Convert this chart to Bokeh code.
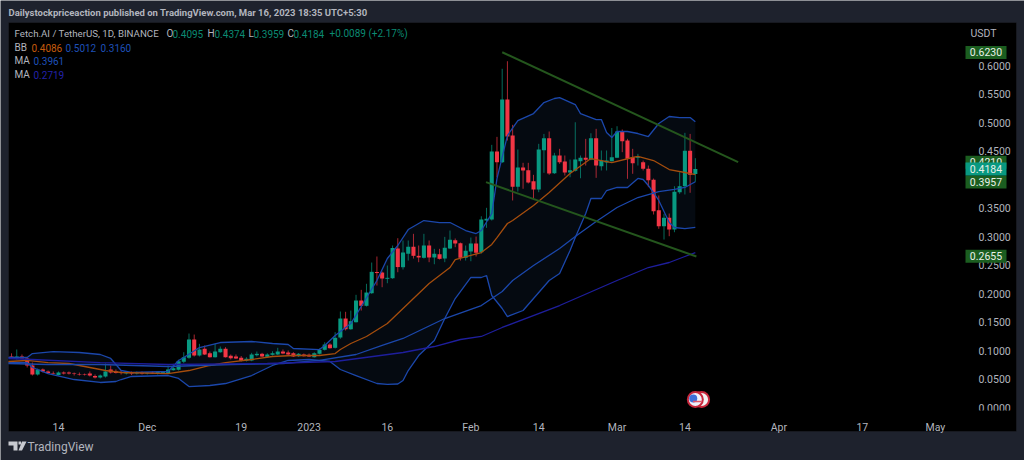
from bokeh.plotting import figure
from bokeh.embed import file_html
from bokeh.resources import INLINE
from bokeh.models import (Range1d, LinearAxis, FixedTicker, NumeralTickFormatter, Label, BoxAnnotation,
                          PolyAnnotation, ColumnDataSource)

# ---- data -------------------------------------------------------------
days = list(range(-9, 123))  # days from 14 Nov 2022
opens = [.0895,.0860,.0895,.0860,.0737,.0579,.0667,.0632,.0605,.0570,.0614,.0614,.0596,.0588,.0579,.0596,.0553,.0526,.0544,.0667,.0632,.0614,.0596,.0614,.0596,.0614,.0596,.0614,.0596,.0605,.0602,.0654,.0661,.0802,.0872,.1193,.0912,.1030,.0952,.0882,.0970,.1030,.0907,.0895,.0872,.0819,.0824,.0917,.0942,.0889,.0924,.0930,.0982,.0965,.0952,.0900,.0930,.0924,.0882,.0942,.1012,.1105,.1047,.1228,.1561,.1373,.1496,.1877,.1784,.2005,.2377,.2368,.2258,.2268,.2789,.2461,.2696,.2819,.2661,.2626,.2842,.2632,.2689,.2614,.2789,.2935,.2882,.2626,.2736,.2877,.2724,.3280,.3298,.4491,.4303,.5403,.4772,.3872,.4211,.4163,.3970,.3825,.4514,.4725,.4111,.4421,.4316,.4123,.4152,.4320,.4380,.4350,.4725,.4233,.4298,.4321,.4380,.4847,.4684,.4386,.4377,.4303,.4187,.3995,.3462,.3181,.3328,.3123,.3777,.3882,.4503,.4095]
highs = [.0950,.1018,.0930,.0877,.0789,.0684,.0684,.0649,.0632,.0632,.0632,.0632,.0614,.0614,.0596,.0632,.0579,.0579,.0772,.0737,.0667,.0649,.0632,.0632,.0632,.0632,.0623,.0632,.0640,.0632,.0737,.0767,.0837,.0970,.1298,.1280,.1117,.1087,.0982,.1117,.1070,.1058,.0930,.0930,.0903,.0882,.0959,.0982,.0959,.0952,.0987,.1047,.1017,.1000,.0970,.0956,.0947,.0947,.0970,.1035,.1145,.1128,.1321,.1684,.1679,.1701,.1977,.2064,.2170,.2543,.2649,.2386,.2491,.2842,.2970,.2930,.2930,.3047,.2842,.3047,.2930,.2784,.2784,.2994,.3105,.2965,.2894,.2842,.2982,.2999,.3355,.3503,.4608,.4748,.5942,.6075,.4959,.4526,.4293,.4293,.4082,.4626,.4800,.4842,.4468,.4538,.4421,.4350,.5004,.4421,.4713,.4811,.4889,.4509,.4509,.4904,.4935,.4877,.4714,.4538,.4450,.4333,.4245,.4017,.3720,.3398,.3403,.3882,.4128,.4819,.4800,.4374]
lows = [.0860,.0842,.0860,.0702,.0561,.0561,.0614,.0596,.0579,.0561,.0579,.0579,.0561,.0561,.0561,.0544,.0509,.0509,.0526,.0596,.0596,.0579,.0579,.0570,.0579,.0579,.0579,.0588,.0579,.0588,.0588,.0649,.0649,.0777,.0854,.0895,.0895,.0921,.0877,.0877,.0960,.0877,.0842,.0851,.0807,.0807,.0812,.0895,.0886,.0877,.0912,.0921,.0935,.0921,.0886,.0886,.0895,.0886,.0877,.0930,.1000,.1035,.1035,.1205,.1351,.1363,.1491,.1701,.1772,.1994,.2140,.2110,.2180,.2257,.2373,.2421,.2578,.2613,.2549,.2613,.2549,.2513,.2596,.2549,.2780,.2812,.2578,.2578,.2566,.2649,.2701,.3152,.3280,.4039,.4289,.4684,.3632,.3789,.3837,.3930,.3649,.3777,.4117,.4082,.4096,.4275,.4070,.4039,.4140,.4022,.4245,.4338,.4029,.4158,.4158,.4316,.4377,.4479,.4012,.4100,.4245,.4158,.3865,.3386,.3135,.2947,.3005,.3075,.3749,.3737,.3767,.3959]
closes = [.0860,.0895,.0860,.0737,.0579,.0667,.0632,.0605,.0596,.0614,.0596,.0596,.0588,.0579,.0570,.0561,.0526,.0561,.0632,.0614,.0605,.0605,.0605,.0596,.0614,.0596,.0614,.0596,.0623,.0623,.0667,.0689,.0812,.0882,.1193,.0912,.1017,.0930,.0882,.0982,.1030,.0882,.0865,.0860,.0819,.0854,.0930,.0942,.0895,.0930,.0952,.0982,.0947,.0930,.0895,.0942,.0900,.0895,.0952,.1012,.1105,.1040,.1223,.1561,.1373,.1514,.1877,.1784,.2017,.2380,.2359,.2263,.2275,.2798,.2464,.2719,.2819,.2661,.2632,.2842,.2632,.2696,.2608,.2802,.2942,.2877,.2626,.2749,.2877,.2713,.3298,.3310,.4491,.4303,.5403,.4754,.3872,.4211,.4158,.3947,.3825,.4526,.4725,.4105,.4421,.4303,.4123,.4163,.4350,.4380,.4345,.4725,.4245,.4333,.4333,.4391,.4842,.4672,.4363,.4286,.4391,.4187,.3988,.3444,.3181,.3328,.3123,.3784,.3882,.4503,.4082,.4184]

upper_days = [-9.6,-6,-5,-1,4,8,10,12,14,21,23,24,27,31,37,41,44,45,50,51,53,56,58,61,63,65,67,70,73,75,78,80,81,83,84,86,88,91,93,95,96,99,100,103,104,105,106,107,109,111,113,115,117,119,121,122]
upper_vals = [.0877,.0877,.0947,.0982,.0965,.0930,.0860,.0649,.0614,.0632,.0824,.0877,.1052,.1140,.1158,.1123,.1105,.1035,.1017,.1088,.1263,.1473,.1772,.2228,.2614,.2842,.3122,.3280,.3245,.3245,.3105,.3052,.3105,.3403,.4017,.4771,.5034,.5157,.5350,.5421,.5438,.5315,.5157,.5052,.5052,.4824,.4737,.4842,.4842,.4807,.4754,.4982,.5105,.5087,.5087,.5012]
lower_days = [-9.6,-6,-5,-2,3,8,11,12,14,21,23,24,25,29,32,37,41,44,48,52,54,57,61,63,65,66,67,69,72,74,76,79,81,82,83,85,86,89,92,94,96,98,99,101,102,104,105,107,109,111,112,113,115,117,118,120,122]
lower_vals = [.0789,.0789,.0702,.0596,.0491,.0439,.0456,.0491,.0544,.0561,.0509,.0439,.0368,.0386,.0421,.0561,.0737,.0825,.0842,.0807,.0667,.0561,.0421,.0404,.0412,.0474,.0649,.0912,.1175,.1561,.1912,.2281,.2281,.2316,.1965,.1737,.1596,.1702,.2018,.2228,.2351,.2754,.2982,.3404,.3667,.3667,.3807,.3860,.3860,.4018,.4000,.3895,.3632,.3246,.3158,.3140,.3160]
basis_days = [-9.6,-6,-2,2,6,9,12,21,25,29,32,37,41,45,50,53,54,56,59,63,67,71,75,76,79,81,83,84,86,87,91,94,98,102,106,110,111,114,117,120,122]
basis_vals = [.0807,.0825,.0789,.0772,.0702,.0649,.0614,.0596,.0649,.0737,.0789,.0842,.0895,.0912,.0912,.0947,.1018,.1123,.1246,.1474,.1825,.2175,.2456,.2596,.2667,.2719,.2860,.2982,.3228,.3281,.3544,.3772,.4105,.4368,.4298,.4386,.4404,.4333,.4175,.4123,.4086]
ma50_days = [-9.6,-2,8,21,33,43,50,57,62,66,74,81,85,87,91,96,99,103,107,111,115,118,120,122]
ma50_vals = [.0772,.0754,.0754,.0719,.0754,.0772,.0825,.0930,.1088,.1211,.1561,.1789,.2035,.2228,.2491,.2789,.3000,.3263,.3509,.3684,.3789,.3825,.3860,.3961]
ma200_days = [-9.6,-5,8,21,40,53,66,72,77,81,85,96,107,113,117,120,122]
ma200_vals = [.0860,.0842,.0789,.0754,.0772,.0807,.0965,.1070,.1193,.1246,.1404,.1789,.2228,.2456,.2544,.2649,.2719]
trend_upper_days = [85, 130.2]
trend_upper_vals = [.6233, .4304]
trend_lower_days = [81.9, 122.2]
trend_lower_vals = [.3953, .2649]

price_ticks = [0, .05, .10, .15, .20, .25, .30, .35, .45, .50, .55, .60]
time_ticks = [0, 17, 35, 48, 63, 79, 92, 107, 120, 138, 154, 168]
time_labels = ["14", "Dec", "19", "2023", "16", "Feb", "14", "Mar", "14", "Apr", "17", "May"]
tag_prices = [.6230, .4304, .3957, .2655, .4184]
tag_texts = ["0.6230", "0.4210", "0.3957", "0.2655", "0.4184"]
tag_fills = ["#1b5e20", "#1b5e20", "#1b5e20", "#1b5e20", "#089981"]

# ---- colours / font ----------------------------------------------------
BG, TXT = "#1e222d", "#b2b5be"
UP, DOWN = "#089981", "#f23645"
BLUE, ORANGE, INDIGO, TREND = "#1b47ab", "#a54d0d", "#1e1e9c", "#24561d"
FONT = "Roboto"

# ---- figure: the frame fills the page, the axes sit inside it ------------
p = figure(width=1024, height=460, frame_width=1024, frame_height=460,
           min_border_left=0, min_border_right=0, min_border_top=0, min_border_bottom=0,
           x_range=Range1d(-11.111, 185.06), y_range=Range1d(-.09298, .71404),
           toolbar_location=None, output_backend="svg", x_axis_location=None, y_axis_location=None,
           background_fill_color=BG, border_fill_color=BG, outline_line_color=None)
p.grid.visible = False


def box(l, r, t, b, fill, level, line=None):
    p.add_layout(BoxAnnotation(left=l, right=r, top=t, bottom=b, left_units="canvas", right_units="canvas",
                               top_units="canvas", bottom_units="canvas", fill_color=fill, fill_alpha=1,
                               line_color=line, line_width=1, level=level))


box(8, 1016, 22, 431, "#000000", "underlay", "#2a2e39")

yax = LinearAxis(ticker=FixedTicker(ticks=price_ticks), fixed_location=173.75,
                 formatter=NumeralTickFormatter(format="0.0000"),
                 major_label_text_color=TXT, major_label_text_font=FONT, major_label_text_font_size="10.5px",
                 major_label_standoff=7, major_tick_line_color=None, minor_tick_line_color=None,
                 axis_line_color=None)
p.add_layout(yax, "right")
xax = LinearAxis(ticker=FixedTicker(ticks=time_ticks), fixed_location=-.00526,
                 major_label_overrides={t: s for t, s in zip(time_ticks, time_labels)},
                 major_label_text_color=TXT, major_label_text_font=FONT, major_label_text_font_size="10.5px",
                 major_label_standoff=5, major_tick_line_color=None, minor_tick_line_color=None,
                 axis_line_color=None, level="overlay")
p.add_layout(xax, "below")
# the pane ends where the time scale starts: it cuts the lowest price label
box(966, 1015, 410, 430, "#000000", "annotation")

# band
p.patch(upper_days + lower_days[::-1], upper_vals + lower_vals[::-1], fill_color="#050a11", line_color=None)

# candles
colors = [UP if c >= o else DOWN for o, c in zip(opens, closes)]
src = ColumnDataSource(dict(d=days, o=opens, h=highs, l=lows, c=closes, col=colors))
p.segment("d", "h", "d", "l", source=src, line_color="col", line_width=1, line_alpha=.7)
p.vbar("d", .78, "o", "c", source=src, fill_color="col", line_color=None)

# indicators
p.line(upper_days, upper_vals, line_color=BLUE, line_width=1.3)
p.line(lower_days, lower_vals, line_color=BLUE, line_width=1.3)
p.line(basis_days, basis_vals, line_color=ORANGE, line_width=1.3)
p.line(ma50_days, ma50_vals, line_color=BLUE, line_width=1.3)
p.line(ma200_days, ma200_vals, line_color=INDIGO, line_width=1.3)
p.line(trend_upper_days, trend_upper_vals, line_color=TREND, line_width=2)
p.line(trend_lower_days, trend_lower_vals, line_color=TREND, line_width=2)

# economic-event markers
p.scatter([123.2], [.014], size=15, fill_color="#f2f2f2", line_color="#c8283c", line_width=2)
p.scatter([122], [.014], size=15, fill_color="#eef1fa", line_color="#c8283c", line_width=2)
p.scatter([121.6], [.016], size=8, fill_color="#3d6fd8", line_color=None)
p.scatter([122.4], [.0105], marker="dash", size=9, line_color="#e0566a", line_width=1.5)


def txt(x, y, s, color=TXT, size="10px", weight="normal", align="left", level="annotation"):
    # x and y are page pixels
    p.add_layout(Label(x=x, y=y, x_units="canvas", y_units="canvas", text=s, text_color=color,
                       text_font=FONT, text_font_size=size, text_font_style=weight, text_align=align,
                       text_baseline="middle", level=level))


txt(8, 12, "Dailystockpriceaction published on TradingView.com, Mar 16, 2023 18:35 UTC+5:30", weight="bold", size="9.5px")
txt(983, 33, "USDT", align="center", size="10.5px")

GO = "#0b8a73"
txt(14, 33, "Fetch.AI / TetherUS, 1D, BINANCE", TXT, size="9.7px")
for x, y, s, c in [(166, 33, "O", TXT), (172, 33, "0.4095", GO),
                   (207, 33, "H", TXT), (214, 33, "0.4374", GO),
                   (248, 33, "L", TXT), (253, 33, "0.3959", GO),
                   (287, 33, "C", TXT), (293, 33, "0.4184", GO),
                   (329, 33, "+0.0089 (+2.17%)", GO),
                   (14, 47, "BB", TXT), (31, 47, "0.4086", "#c65b0d"),
                   (65, 47, "0.5012", "#1e50b8"), (100, 47, "0.3160", "#1e50b8"),
                   (14, 60, "MA", TXT), (33, 60, "0.3961", "#1e50b8"),
                   (14, 74, "MA", TXT), (33, 74, "0.2719", "#2222aa")]:
    txt(x, y, s, c)

# price tags on the scale
for price, s, fill in zip(tag_prices, tag_texts, tag_fills):
    y = 407 - price * 570
    box(965, 1006, y - 6.5, y + 6.5, fill, "overlay")
    txt(985.5, y, s, "#e8f0e8", align="center", level="overlay", size="10.5px")

# TradingView mark and name
p.add_layout(PolyAnnotation(xs=[8, 17, 17, 13, 13, 8], ys=[441, 441, 450, 450, 445, 445],
                            xs_units="canvas", ys_units="canvas", fill_color="#c8cad0", fill_alpha=1,
                            line_color=None, level="overlay"))
p.add_layout(PolyAnnotation(xs=[21.5, 26, 21.5, 18], ys=[441, 441, 450, 450],
                            xs_units="canvas", ys_units="canvas", fill_color="#c8cad0", fill_alpha=1,
                            line_color=None, level="overlay"))
box(18, 20.5, 441, 444, "#c8cad0", "overlay")
txt(27, 446, "TradingView", "#b2b5be", size="12px")

open("out.html", "w").write(file_html(p, INLINE))
